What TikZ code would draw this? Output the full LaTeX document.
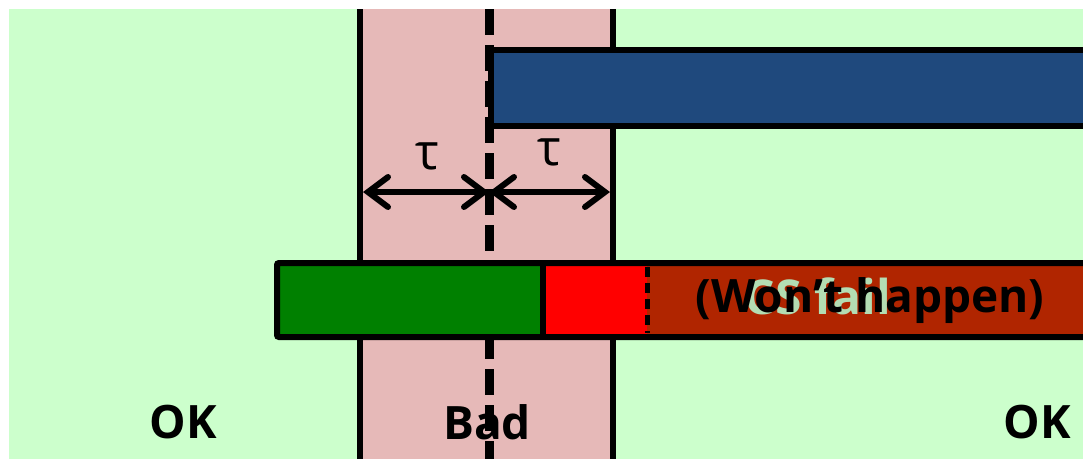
\documentclass[tikz,border=0pt]{standalone}
\usepackage{fontspec}
\setmainfont{Open Sans}
\usetikzlibrary{arrows.meta}
\definecolor{okgreen}{HTML}{CCFFCC}
\definecolor{badpink}{HTML}{E6B9B8}
\definecolor{bluebar}{HTML}{1F497D}
\definecolor{greenbar}{HTML}{008000}
\definecolor{redbar}{HTML}{FF0000}
\definecolor{darkred}{HTML}{B02500}
\definecolor{csgreen}{HTML}{B3DDB3}
\tikzset{
  lbl/.style={font=\fontsize{46}{50}\selectfont\bfseries, inner sep=0pt},
  taulbl/.style={font=\fontsize{50}{54}\selectfont, inner sep=0pt},
  barbox/.style={draw=black, line width=6pt},
  dimarrow/.style={line width=6pt, line cap=round, {Straight Barb[length=20pt,width=30pt,line cap=round]}-{Straight Barb[length=20pt,width=30pt,line cap=round]}},
}
\begin{document}
\begin{tikzpicture}[x=1pt,y=-1pt]
\useasboundingbox (0,0) rectangle (1083,459);
% backgrounds
\fill[okgreen] (9,9) rectangle (1083,459);
\fill[badpink] (360,9) rectangle (613,459);
\draw[line width=5.5pt] (360,9) -- (360,459);
\draw[line width=5.5pt] (613,9) -- (613,459);
% dashed centre line
\draw[line width=9pt, dash pattern=on 26pt off 10pt] (489,9) -- (489,459);
% blue bar
\filldraw[fill=bluebar, barbox] (491,50) rectangle (1090,126);
% dimension arrows
\coordinate (L) at (363,192);
\coordinate (M) at (489,192);
\coordinate (R) at (610,192);
\draw[dimarrow] (L) -- (M);
\draw[dimarrow] (M) -- (R);
\node[taulbl] (t1) at (427,156) {τ};
\node[taulbl] (t2) at (549,152) {τ};
% bottom bar
\fill[greenbar] (277,263) rectangle (543,337);
\fill[redbar] (543,263) rectangle (647,337);
\fill[darkred] (647,263) rectangle (1090,337);
\draw[line width=6pt, rounded corners=2pt] (1090,263) -- (277,263) -- (277,337) -- (1090,337);
\draw[line width=6pt] (543,263) -- (543,337);
\draw[line width=5pt, dash pattern=on 10pt off 6pt] (647,267) -- (647,333);
\node[font=\fontsize{48}{52}\selectfont\bfseries, text=csgreen, inner sep=0pt] (cs) at (818,296) {CS fail};
\node[font=\fontsize{46}{50}\selectfont\bfseries, text=black, inner sep=0pt] (wh) at (870,301) {(Won’t happen)};
% labels
\node[lbl] (ok1) at (183,422) {OK};
\node[lbl] (bad) at (487,422) {Bad};
\node[lbl] (ok2) at (1037,422) {OK};
\end{tikzpicture}
\end{document}
